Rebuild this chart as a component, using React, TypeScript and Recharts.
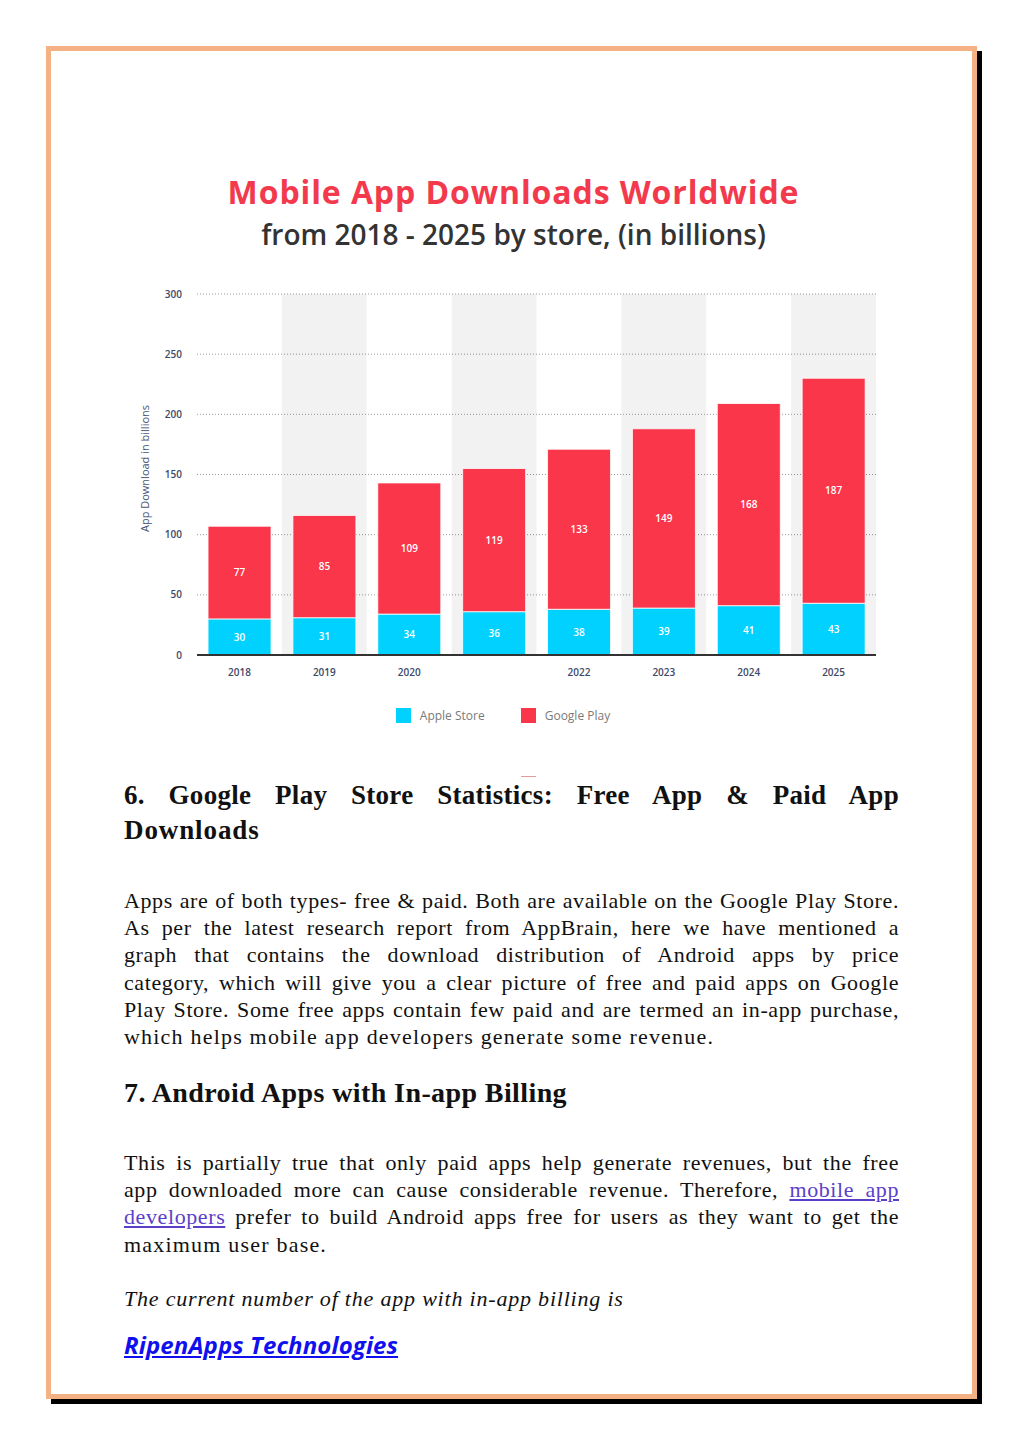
import React from 'react';
import {
  BarChart, Bar, XAxis, YAxis, CartesianGrid, Legend, LabelList, ReferenceArea,
} from 'recharts';

const years = ['2018', '2019', '2020', '2021', '2022', '2023', '2024', '2025'];
const tickLabels = ['2018', '2019', '2020', '', '2022', '2023', '2024', '2025'];
const appleStore = [30, 31, 34, 36, 38, 39, 41, 43];
const googlePlay = [77, 85, 109, 119, 133, 149, 168, 187];
const yTicks = [0, 50, 100, 150, 200, 250, 300];
const shadedYears = ['2019', '2021', '2023', '2025'];
const seriesNames = ['Apple Store', 'Google Play'];

const CYAN = '#00D1FE';
const RED = '#F9364A';

const data = years.map((y, i) => ({ year: y, apple: appleStore[i], google: googlePlay[i] }));

const para1 = [
  'Apps are of both types- free & paid. Both are available on the Google Play Store.',
  'As per the latest research report from AppBrain, here we have mentioned a',
  'graph that contains the download distribution of Android apps by price',
  'category, which will give you a clear picture of free and paid apps on Google',
  'Play Store. Some free apps contain few paid and are termed an in-app purchase,',
];
const para1Last = 'which helps mobile app developers generate some revenue.';

const LegendContent = () => (
  <div style={{ height: 60, display: 'flex', alignItems: 'center', justifyContent: 'center', fontFamily: '"Open Sans", sans-serif', fontSize: 12, color: '#7a7a7a' }}>
    <span style={{ display: 'inline-block', width: 15, height: 15, background: CYAN, marginRight: 9 }} />
    <span style={{ marginRight: 36 }}>{seriesNames[0]}</span>
    <span style={{ display: 'inline-block', width: 15, height: 15, background: RED, marginRight: 9 }} />
    <span>{seriesNames[1]}</span>
  </div>
);

const serif = '"Liberation Serif", "Times New Roman", serif';
const bodyStyle: React.CSSProperties = {
  fontFamily: serif, fontSize: 22, letterSpacing: 1.2, color: '#111', lineHeight: '27.2px',
};
const justLine: React.CSSProperties = {
  textAlign: 'justify', textAlignLast: 'justify', whiteSpace: 'nowrap', width: 775, letterSpacing: 0.6,
};

export default function App() {
  return (
    <div style={{ position: 'absolute', left: 0, top: 0, width: 1023, height: 1447, background: '#fff' }}>
      <div style={{
        position: 'absolute', left: 46, top: 46, width: 921, height: 1343,
        border: '5px solid #F4B183', boxShadow: '5px 5px 0 #000', background: '#fff',
      }} />

      <div style={{ position: 'absolute', left: 0, width: 1027, top: 173, lineHeight: '38px', textAlign: 'center', fontFamily: '"Open Sans", sans-serif', fontWeight: 700, fontSize: 32, color: '#F33A4D', letterSpacing: 0.9 }}>
        Mobile App Downloads Worldwide
      </div>
      <div style={{ position: 'absolute', left: 0, width: 1027, top: 217, lineHeight: '34px', textAlign: 'center', fontFamily: '"Open Sans", sans-serif', fontWeight: 600, fontSize: 28, color: '#333', letterSpacing: 0 }}>
        from 2018 - 2025 by store, (in billions)
      </div>

      <div style={{ position: 'absolute', left: 120, top: 284 }}>
        <BarChart width={770} height={461} data={data} margin={{ top: 10, right: 14, bottom: 0, left: 10 }} barCategoryGap="13%">
          {shadedYears.map((y) => (
            <ReferenceArea key={y} x1={y} x2={y} y1={0} y2={300} fill="#000" fillOpacity={0.05} stroke="none" ifOverflow="hidden" />
          ))}
          <CartesianGrid vertical={false} stroke="#9a9a9a" strokeDasharray="1 2" />
          <XAxis
            dataKey="year"
            tickFormatter={(v: string, i: number) => tickLabels[i]}
            axisLine={{ stroke: '#333', strokeWidth: 2 }}
            tickLine={false}
            tickSize={6}
            tickMargin={8}
            height={30}
            tick={{ fill: '#3d4868', fontSize: 10, fontWeight: 600, fontFamily: '"Open Sans", sans-serif' }}
          />
          <YAxis
            domain={[0, 300]}
            ticks={yTicks}
            width={67}
            axisLine={false}
            tickLine={false}
            tickSize={6}
            tickMargin={9}
            tick={{ fill: '#3d4868', fontSize: 10, fontWeight: 600, fontFamily: '"Open Sans", sans-serif' }}
            label={{ value: 'App Download in billions', angle: -90, position: 'insideLeft', offset: 15, dy: -6, style: { textAnchor: 'middle', fill: '#4a5679', fontSize: 11, fontFamily: '"Open Sans", sans-serif' } }}
          />
          <Legend content={<LegendContent />} verticalAlign="bottom" />
          <Bar dataKey="apple" name={seriesNames[0]} stackId="s" fill={CYAN} stroke="#fff" strokeWidth={0.8} isAnimationActive={false}>
            <LabelList dataKey="apple" position="center" fill="#fff" fontSize={10} fontWeight={600} fontFamily='"Open Sans", sans-serif' />
          </Bar>
          <Bar dataKey="google" name={seriesNames[1]} stackId="s" fill={RED} stroke="#fff" strokeWidth={0.8} isAnimationActive={false}>
            <LabelList dataKey="google" position="center" fill="#fff" fontSize={10} fontWeight={600} fontFamily='"Open Sans", sans-serif' />
          </Bar>
        </BarChart>
      </div>

      <div style={{ position: 'absolute', left: 521, top: 776, width: 15, height: 1, background: '#e59aa0' }} />

      <div style={{ position: 'absolute', left: 124, top: 778, fontFamily: serif, fontWeight: 700, fontSize: 27, lineHeight: '35px', color: '#111', letterSpacing: 0.3 }}>
        <div style={{ ...justLine, letterSpacing: 0.3 }}>6. Google Play Store Statistics: Free App &amp; Paid App</div>
        <div style={{ letterSpacing: 0.9 }}>Downloads</div>
      </div>

      <div style={{ position: 'absolute', left: 124, top: 887, ...bodyStyle }}>
        {para1.map((l, i) => <div key={i} style={justLine}>{l}</div>)}
        <div>{para1Last}</div>
      </div>

      <div style={{ position: 'absolute', left: 124, top: 1075, fontFamily: serif, fontWeight: 700, fontSize: 28, lineHeight: '35px', color: '#111', letterSpacing: 0.4 }}>
        7. Android Apps with In-app Billing
      </div>

      <div style={{ position: 'absolute', left: 124, top: 1149, ...bodyStyle }}>
        <div style={justLine}>This is partially true that only paid apps help generate revenues, but the free</div>
        <div style={justLine}>app downloaded more can cause considerable revenue. Therefore, <span style={{ color: '#5b3fc9', textDecoration: 'underline' }}>mobile app</span></div>
        <div style={justLine}><span style={{ color: '#5b3fc9', textDecoration: 'underline' }}>developers</span> prefer to build Android apps free for users as they want to get the</div>
        <div>maximum user base.</div>
      </div>

      <div style={{ position: 'absolute', left: 124, top: 1285, ...bodyStyle, letterSpacing: 0.8, fontStyle: 'italic' }}>
        The current number of the app with in-app billing is
      </div>

      <div style={{ position: 'absolute', left: 124, top: 1328, fontFamily: '"Open Sans", sans-serif', fontWeight: 700, fontStyle: 'italic', fontSize: 24, color: '#1010ee', textDecoration: 'underline', letterSpacing: 0.1 }}>
        RipenApps Technologies
      </div>
    </div>
  );
}
